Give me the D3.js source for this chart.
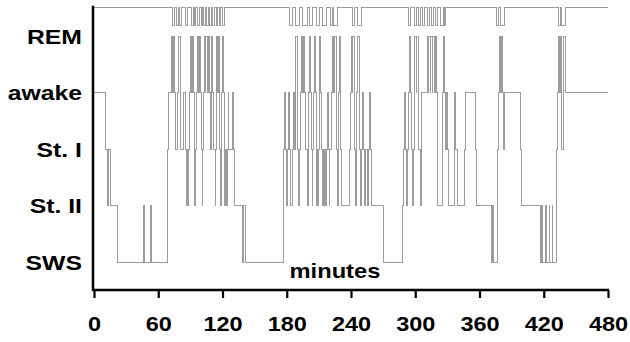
<!DOCTYPE html>
<html>
<head>
<meta charset="utf-8">
<script src="https://cdn.jsdelivr.net/npm/d3@7"></script>
<style>
  html, body { margin: 0; padding: 0; background: #fff; }
  svg { display: block; }
  text { font-family: "Liberation Sans", Arial, sans-serif; font-weight: bold; fill: #000; }
</style>
</head>
<body>
<svg id="chart" width="630" height="342"></svg>
<script>
// ---- data ----
const stageLabels = ["SWS", "St. II", "St. I", "awake", "REM"];
const xTicks = [0, 60, 120, 180, 240, 300, 360, 420, 480];
const xLabel = "minutes";

// [minute, stage] : stage holds from this minute until the next entry
// 0 = SWS, 1 = St. II, 2 = St. I, 3 = awake, 4 = REM
const transitions = [
  [0,3],[11,2],[13,1],[14,2],[15,1],[21.5,0],
  [46,1],[47,0],[53,1],[54,0],
  [68.2,1],[68.8,2],[70,3],[72,4],[73,3],[74.5,4],[75,3],[76,2],[78,3],[79,4],[80.5,3],[81,2],
  [84,3],[85,2],[86,1],[87,2],[87.5,1],[88.5,2],[89.5,3],[90,4],[91.5,3],[92,4],[93,3],[93.5,2],
  [94,1],[95,2],[96,3],[97,4],[98,3],[98.5,4],[99.5,3],[100,2],[101,1],[101.5,2],[102,3],[103,4],
  [104,3],[104.5,4],[106,3],[106.5,4],[108,3],[108.5,2],[109.5,3],[110,4],[111,3],[112,2],[113,1],
  [113.5,2],[114,3],[114.5,4],[115.5,3],[116,4],[117,3],[117.5,2],[118,1],[119,2],[119.5,3],[120,4],
  [121,3],[121.5,2],[122,1],[123,2],[124,1],[124.5,2],[125.5,3],[126,2],[129.5,3],[130,2],[131,1],
  [139,0],[140,1],[141.5,0],
  [176.5,1],[177,2],[177.5,3],[178.5,2],[180,1],[181,2],[182,3],[183,2],[183.5,1],[185,2],[186,3],
  [187,2],[188,3],[188.5,4],[190,3],[190.5,2],[191,1],[192,2],[193,3],[193.5,4],[195,3],[196,4],
  [197,3],[197.5,2],[199,1],[200,2],[200.5,3],[201,4],[202.5,3],[203,2],[204,1],[204.5,2],[205,3],
  [206,4],[207,3],[207.5,2],[208,1],[209,2],[209.5,1],[210,2],[210.5,3],[211,4],[211.5,3],[212,2],
  [213,1],[214,2],[214.5,1],[215.5,2],[216,1],[217,2],[218,3],[219,2],[219.5,1],[220,2],[222,3],
  [222.5,4],[224,3],[224.5,4],[226,3],[226.5,2],[227,1],[228,2],[228.5,3],[229,4],[230,3],[230.5,2],
  [231,1],[239,2],[239.5,3],[240,4],[241,3],[241.5,4],[243,3],[243.5,2],[244,1],[245,2],[245.5,3],
  [246,4],[247.5,3],[248,2],[249,1],[250,2],[251,3],[252,2],[253,1],[254,2],[255,1],[256,2],[257,3],
  [258,2],[259.5,1],[270,0],
  [288.5,1],[289,2],[289.5,3],[291,2],[292,1],[293,2],[294,3],[294.5,4],[296,3],[296.5,2],[297.5,1],
  [298.5,2],[299,3],[299.5,4],[301,3],[301.5,4],[303,3],[303.5,2],[304.5,1],[305.5,2],[306,3],
  [311,4],[312,3],[312.5,4],[314,3],[314.5,4],[316,3],[316.5,4],[318,3],[318.5,4],[320,3],[320.5,2],
  [321,1],[325,2],[325.5,3],[326,4],[327,3],[328,2],[329,3],[330.5,2],[331.5,1],[336.5,2],[337,3],
  [338,2],[339,1],[346,2],[346.5,3],[356,2],[357,1],[371.5,0],[372.5,1],[373,0],[376.5,1],[377,2],
  [378,3],[378.5,4],[380,3],[380.5,4],[381.5,3],[382,2],[383,3],[398,2],[399.5,1],
  [416.5,0],[418,1],[419,0],[422,1],[422.5,0],[425,1],[425.5,0],[428,1],[428.5,0],[431.5,1],
  [432,2],[433,3],[433.5,4],[435,3],
  [435.5,4],[436.5,3],[437,2],[438,3],[438.5,4],[440,3],[480,3]
];

// short marks hanging from the top line: [start minute, end minute]
const topEvents = [
  [73,75],[77.5,79],[80,81.5],[85,87],[91,92.5],[93.5,95],[97,98.5],[100,101],[102.5,104],
  [105,106.5],[108,109.5],[111,112.5],[114,115.5],[117,118.5],[120,121.5],
  [183,185.5],[188.5,191.5],[195,199],[201,204.5],[207.5,211],[213,217],[220.5,223],[224,227],
  [241,243.5],[246,250],
  [294,296],[299,301],[303,305],[307,309],[311,313],[315,317],[319,321],[324,326],[327.5,328.5],
  [376,378],[380,383],[433.5,435.5],[437,440]
];

// ---- layout ----
const svg = d3.select("#chart");
const x = d3.scaleLinear().domain([0, 480]).range([94, 608]);
const y = d3.scaleLinear().domain([0, 4.5]).range([262, 7.75]);
const topLevel = 4.5, eventLevel = 4.18;
const axisY = 290;
const lineColor = "#9c9c9c";

// top track
const topPts = [[0, topLevel]];
topEvents.forEach(([a, b]) => { topPts.push([a, eventLevel]); topPts.push([b, topLevel]); });
topPts.push([480, topLevel]);
const step = d3.line().x(d => x(d[0])).y(d => y(d[1])).curve(d3.curveStepAfter);

svg.append("path")
  .attr("d", step(topPts))
  .attr("fill", "none").attr("stroke", lineColor).attr("stroke-width", 1)
  .attr("shape-rendering", "crispEdges");

svg.append("path")
  .attr("d", step(transitions))
  .attr("fill", "none").attr("stroke", lineColor).attr("stroke-width", 1)
  .attr("shape-rendering", "crispEdges");

// y axis line (no ticks)
svg.append("line")
  .attr("x1", x(0) - 1).attr("x2", x(0) - 1)
  .attr("y1", y(topLevel) - 2).attr("y2", axisY + 1)
  .attr("stroke", "#000").attr("stroke-width", 2.5);

// x axis
const xAxis = d3.axisBottom(x).tickValues(xTicks).tickSize(8).tickPadding(18).tickSizeOuter(0);
const gx = svg.append("g").attr("transform", `translate(0,${axisY})`).call(xAxis);
gx.select(".domain").attr("stroke", "#000").attr("stroke-width", 2.5)
  .attr("d", `M${x(0) - 2},0H${x(480) + 1}`);
gx.selectAll(".tick line").attr("stroke", "#000").attr("stroke-width", 2.2);
gx.selectAll(".tick text")
  .attr("font-size", 21).attr("font-family", "'Liberation Sans', Arial, sans-serif")
  .attr("font-weight", "bold").attr("fill", "#000")
  .attr("transform", "scale(1.12,1)");

// y stage labels (slightly wide lettering as in the original)
svg.append("g").selectAll("text").data(stageLabels).join("text")
  .attr("transform", (d, i) => `translate(82,${y(i)}) scale(1.18,1)`)
  .attr("dy", "0.36em")
  .attr("text-anchor", "end")
  .attr("font-size", 21)
  .text(d => d);

// x title inside plot
svg.append("text")
  .attr("transform", `translate(${x(225)},${y(0) + 16}) scale(1.13,1)`)
  .attr("text-anchor", "middle")
  .attr("font-size", 21)
  .text(xLabel);
</script>
</body>
</html>
